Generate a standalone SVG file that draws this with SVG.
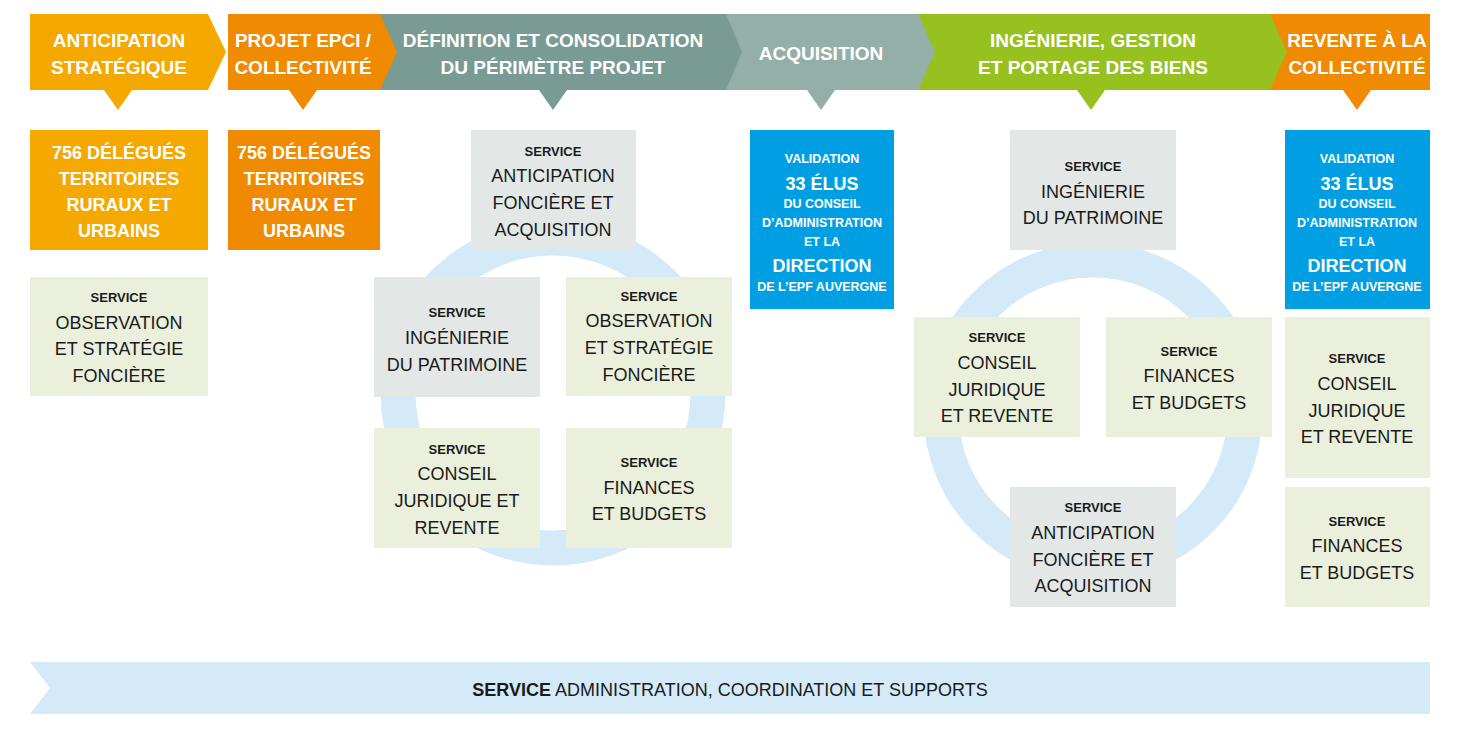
<svg xmlns="http://www.w3.org/2000/svg" width="1458" height="729" viewBox="0 0 1458 729">
<style>
text{font-family:"Liberation Sans",Arial,sans-serif;text-anchor:middle}
.h{fill:#fff;font-weight:bold;font-size:19px}
.w{fill:#fff;font-weight:bold;font-size:18px}
.s{fill:#1a1a1a;font-weight:bold;font-size:13px}
.t{fill:#1a1a1a;font-size:18px}
.v{fill:#fff;font-weight:bold;font-size:12.5px}
.vb{fill:#fff;font-weight:bold;font-size:18px}
.g{fill:#e3e8e6}.l{fill:#ebf0dc}.b{fill:#009fe3}
.ring{fill:none;stroke:#d4eaf8;stroke-width:35}
</style>
<rect width="1458" height="729" fill="#fff"/>
<g id="rings">
<circle class="ring" cx="553" cy="393" r="155"/>
<circle class="ring" cx="1093" cy="412" r="152"/>
</g>
<g id="banner">
<polygon points="1268,14 1430,14 1430,90 1268,90 1285,52" fill="#f08a00"/>
<polygon points="918,14 1270,14 1287,52 1270,90 918,90" fill="#96c11f"/>
<polygon points="726,14 918,14 935,52 918,90 726,90" fill="#93afa8"/>
<polygon points="380,14 726,14 742,52 726,90 380,90" fill="#7a9b93"/>
<polygon points="228,14 380,14 397,52 380,90 228,90" fill="#f08a00"/>
<polygon points="30,14 208,14 226,52 208,90 30,90" fill="#f5a800"/>
<polygon points="104,90 132,90 118,110" fill="#f5a800"/>
<polygon points="289,90 317,90 303,110" fill="#f08a00"/>
<polygon points="539,90 567,90 553,110" fill="#7a9b93"/>
<polygon points="807,90 835,90 821,110" fill="#93afa8"/>
<polygon points="1077,90 1105,90 1091,110" fill="#96c11f"/>
<polygon points="1343,90 1371,90 1357,110" fill="#f08a00"/>
<text class="h" x="119" y="47">ANTICIPATION</text><text class="h" x="119" y="74">STRATÉGIQUE</text>
<text class="h" x="303" y="47">PROJET EPCI /</text><text class="h" x="303" y="74">COLLECTIVITÉ</text>
<text class="h" x="553" y="47">DÉFINITION ET CONSOLIDATION</text><text class="h" x="553" y="74">DU PÉRIMÈTRE PROJET</text>
<text class="h" x="821" y="60">ACQUISITION</text>
<text class="h" x="1093" y="47">INGÉNIERIE, GESTION</text><text class="h" x="1093" y="74">ET PORTAGE DES BIENS</text>
<text class="h" x="1357" y="47">REVENTE À LA</text><text class="h" x="1357" y="74">COLLECTIVITÉ</text>
</g>
<g id="n1"><rect x="30" y="130" width="178" height="120" fill="#f5a800"/>
<text class="w" x="119" y="159">756 DÉLÉGUÉS</text><text class="w" x="119" y="185">TERRITOIRES</text><text class="w" x="119" y="211">RURAUX ET</text><text class="w" x="119" y="237">URBAINS</text></g>
<g id="n2"><rect x="228" y="130" width="152" height="120" fill="#f08a00"/>
<text class="w" x="304" y="159">756 DÉLÉGUÉS</text><text class="w" x="304" y="185">TERRITOIRES</text><text class="w" x="304" y="211">RURAUX ET</text><text class="w" x="304" y="237">URBAINS</text></g>
<g id="n3"><rect class="l" x="30" y="277" width="178" height="119"/>
<text class="s" x="119" y="302">SERVICE</text><text class="t" x="119" y="329">OBSERVATION</text><text class="t" x="119" y="355">ET STRATÉGIE</text><text class="t" x="119" y="382">FONCIÈRE</text></g>
<g id="n4"><rect class="g" x="471" y="130" width="165" height="120"/>
<text class="s" x="553" y="156">SERVICE</text><text class="t" x="553" y="182">ANTICIPATION</text><text class="t" x="553" y="209">FONCIÈRE ET</text><text class="t" x="553" y="236">ACQUISITION</text></g>
<g id="n5"><rect class="g" x="374" y="277" width="166" height="120"/>
<text class="s" x="457" y="317">SERVICE</text><text class="t" x="457" y="344">INGÉNIERIE</text><text class="t" x="457" y="371">DU PATRIMOINE</text></g>
<g id="n6"><rect class="l" x="566" y="277" width="166" height="119"/>
<text class="s" x="649" y="301">SERVICE</text><text class="t" x="649" y="327">OBSERVATION</text><text class="t" x="649" y="354">ET STRATÉGIE</text><text class="t" x="649" y="381">FONCIÈRE</text></g>
<g id="n7"><rect class="l" x="374" y="428" width="166" height="120"/>
<text class="s" x="457" y="454">SERVICE</text><text class="t" x="457" y="480">CONSEIL</text><text class="t" x="457" y="507">JURIDIQUE ET</text><text class="t" x="457" y="534">REVENTE</text></g>
<g id="n8"><rect class="l" x="566" y="428" width="166" height="120"/>
<text class="s" x="649" y="467">SERVICE</text><text class="t" x="649" y="494">FINANCES</text><text class="t" x="649" y="520">ET BUDGETS</text></g>
<g id="n9"><rect class="b" x="750" y="130" width="144" height="179"/>
<text class="v" x="822" y="163">VALIDATION</text><text class="vb" x="822" y="190">33 ÉLUS</text><text class="v" x="822" y="208">DU CONSEIL</text><text class="v" x="822" y="227">D’ADMINISTRATION</text><text class="v" x="822" y="246">ET LA</text><text class="vb" x="822" y="272">DIRECTION</text><text class="v" x="822" y="291">DE L’EPF AUVERGNE</text></g>
<g id="n10"><rect class="g" x="1010" y="130" width="166" height="120"/>
<text class="s" x="1093" y="171">SERVICE</text><text class="t" x="1093" y="198">INGÉNIERIE</text><text class="t" x="1093" y="224">DU PATRIMOINE</text></g>
<g id="n11"><rect class="l" x="914" y="317" width="166" height="120"/>
<text class="s" x="997" y="342">SERVICE</text><text class="t" x="997" y="369">CONSEIL</text><text class="t" x="997" y="396">JURIDIQUE</text><text class="t" x="997" y="422">ET REVENTE</text></g>
<g id="n12"><rect class="l" x="1106" y="317" width="166" height="120"/>
<text class="s" x="1189" y="356">SERVICE</text><text class="t" x="1189" y="382">FINANCES</text><text class="t" x="1189" y="409">ET BUDGETS</text></g>
<g id="n13"><rect class="g" x="1010" y="487" width="166" height="120"/>
<text class="s" x="1093" y="512">SERVICE</text><text class="t" x="1093" y="539">ANTICIPATION</text><text class="t" x="1093" y="566">FONCIÈRE ET</text><text class="t" x="1093" y="592">ACQUISITION</text></g>
<g id="n14"><rect class="b" x="1285" y="130" width="145" height="179"/>
<text class="v" x="1357" y="163">VALIDATION</text><text class="vb" x="1357" y="190">33 ÉLUS</text><text class="v" x="1357" y="208">DU CONSEIL</text><text class="v" x="1357" y="227">D’ADMINISTRATION</text><text class="v" x="1357" y="246">ET LA</text><text class="vb" x="1357" y="272">DIRECTION</text><text class="v" x="1357" y="291">DE L’EPF AUVERGNE</text></g>
<g id="n15"><rect class="l" x="1285" y="317" width="145" height="161"/>
<text class="s" x="1357" y="363">SERVICE</text><text class="t" x="1357" y="390">CONSEIL</text><text class="t" x="1357" y="417">JURIDIQUE</text><text class="t" x="1357" y="443">ET REVENTE</text></g>
<g id="n16"><rect class="l" x="1285" y="487" width="145" height="120"/>
<text class="s" x="1357" y="526">SERVICE</text><text class="t" x="1357" y="552">FINANCES</text><text class="t" x="1357" y="579">ET BUDGETS</text></g>
<g id="n17"><polygon points="30,662 1430,662 1430,714 30,714 50,688" fill="#d4eaf8"/>
<text class="t" x="730" y="696"><tspan font-weight="bold">SERVICE</tspan> ADMINISTRATION, COORDINATION ET SUPPORTS</text></g>
<g id="connectors"/>
</svg>
